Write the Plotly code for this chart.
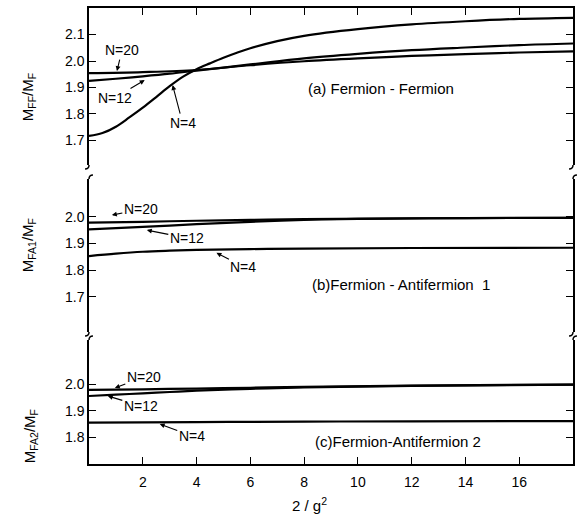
import plotly.graph_objects as go

# ---------------- data ----------------
# panel (a) Fermion-Fermion
xa_n4 = [0, 0.5, 1, 1.5, 2, 2.5, 3, 3.5, 4, 4.5, 5, 5.5, 6, 7, 8, 10, 12, 14, 16, 18]
ya_n4 = [1.717, 1.728, 1.752, 1.787, 1.824, 1.864, 1.905, 1.941, 1.969, 1.991, 2.012, 2.031, 2.048, 2.075, 2.095, 2.120, 2.138, 2.150, 2.159, 2.163]
xa_n12 = [0, 1, 2, 3, 4, 6, 8, 10, 12, 14, 16, 18]
ya_n12 = [1.925, 1.933, 1.942, 1.952, 1.964, 1.987, 2.010, 2.027, 2.041, 2.051, 2.060, 2.066]
xa_n20 = [0, 2, 4, 6, 8, 10, 12, 14, 16, 18]
ya_n20 = [1.954, 1.958, 1.966, 1.984, 1.999, 2.010, 2.019, 2.026, 2.032, 2.036]

# panel (b) Fermion-Antifermion 1
xb_n4 = [0, 1, 2, 3, 4, 6, 8, 12, 18]
yb_n4 = [1.853, 1.862, 1.869, 1.873, 1.876, 1.879, 1.881, 1.883, 1.884]
xb_n12 = [0, 2, 4, 6, 8, 10, 14, 18]
yb_n12 = [1.953, 1.962, 1.972, 1.981, 1.988, 1.992, 1.995, 1.996]
xb_n20 = [0, 2, 4, 6, 8, 12, 18]
yb_n20 = [1.978, 1.981, 1.985, 1.988, 1.991, 1.994, 1.996]

# panel (c) Fermion-Antifermion 2
xc_n4 = [0, 4, 8, 12, 18]
yc_n4 = [1.855, 1.857, 1.859, 1.860, 1.861]
xc_n12 = [0, 1, 2, 3, 4, 6, 8, 12, 18]
yc_n12 = [1.955, 1.960, 1.965, 1.970, 1.975, 1.982, 1.987, 1.993, 1.998]
xc_n20 = [0, 2, 4, 6, 8, 12, 18]
yc_n20 = [1.978, 1.980, 1.983, 1.986, 1.989, 1.994, 1.998]

x_ticks = [2, 4, 6, 8, 10, 12, 14, 16]
ya_ticks = [1.7, 1.8, 1.9, 2.0, 2.1]
yb_ticks = [1.7, 1.8, 1.9, 2.0]
yc_ticks = [1.8, 1.9, 2.0]

# ---------------- layout geometry ----------------
W, H = 577, 517
ML, MR, MT, MB = 89, 2, 8, 53
PW, PH = W - ML - MR, H - MT - MB


def py2paper(py):
    return (H - MB - py) / PH


def px2paper(px):
    return (px - ML) / PW


dom_a = [py2paper(165), 1.0]
dom_b = [py2paper(332), py2paper(179)]
dom_c = [0.0, py2paper(340)]

FONT = "Liberation Sans, Arial, sans-serif"
LW = 2.2

fig = go.Figure()
series = [
    (xa_n4, ya_n4, "x", "y"), (xa_n12, ya_n12, "x", "y"), (xa_n20, ya_n20, "x", "y"),
    (xb_n4, yb_n4, "x2", "y2"), (xb_n12, yb_n12, "x2", "y2"), (xb_n20, yb_n20, "x2", "y2"),
    (xc_n4, yc_n4, "x3", "y3"), (xc_n12, yc_n12, "x3", "y3"), (xc_n20, yc_n20, "x3", "y3"),
]
for xs, ys, xr, yr in series:
    fig.add_trace(go.Scatter(x=xs, y=ys, xaxis=xr, yaxis=yr, mode="lines",
                             line=dict(color="black", width=LW, shape="spline", smoothing=1.0),
                             showlegend=False, hoverinfo="skip"))

xcommon = dict(range=[0, 18], tickvals=x_ticks, ticks="inside", ticklen=7,
               tickcolor="black", tickwidth=1.2, linecolor="black", linewidth=1.5,
               showgrid=False, zeroline=False)
ycommon = dict(ticks="inside", ticklen=7, tickcolor="black", tickwidth=1.2,
               showline=True, linecolor="black", linewidth=1.5, mirror="ticks",
               showgrid=False, zeroline=False, tickformat=".1f",
               tickfont=dict(family=FONT, size=14, color="black"))

fig.update_layout(
    width=W, height=H,
    margin=dict(l=ML, r=MR, t=MT, b=MB, pad=0),
    paper_bgcolor="white", plot_bgcolor="white",
    font=dict(family=FONT, size=14, color="black"),
    xaxis=dict(**xcommon, anchor="y", side="top", showline=True, showticklabels=False),
    xaxis2=dict(**{k: v for k, v in xcommon.items() if k not in ("ticks",)}, ticks="",
                anchor="y2", matches="x", showline=False, showticklabels=False),
    xaxis3=dict(**xcommon, anchor="y3", matches="x", showline=True, showticklabels=True,
                ticklabelstandoff=4,
                tickfont=dict(family=FONT, size=14, color="black")),
    yaxis=dict(**ycommon, domain=dom_a, range=[1.6075, 2.2], tickvals=ya_ticks, anchor="x"),
    yaxis2=dict(**ycommon, domain=dom_b, range=[1.569, 2.141], tickvals=yb_ticks, anchor="x2"),
    yaxis3=dict(**ycommon, domain=dom_c, range=[1.7, 2.165], tickvals=yc_ticks, anchor="x3"),
)

# ---------------- break marks on left/right axes ----------------
def hook(px, py, dx, dy):
    x0, y0 = px2paper(px), py2paper(py)
    x1, y1 = px2paper(px + dx), py2paper(py + dy)
    xc, yc = px2paper(px), py2paper(py + dy)
    return f"M {x0},{y0} Q {xc},{yc} {x1},{y1}"

shapes = []
for side_px in (ML, ML + PW):
    shapes.append(hook(side_px, 165, -4, 4))
    shapes.append(hook(side_px, 179, 4, -4))
    shapes.append(hook(side_px, 332, -4, 4))
    shapes.append(hook(side_px, 340, 4, -4))
for p in shapes:
    fig.add_shape(type="path", path=p, xref="paper", yref="paper",
                  line=dict(color="black", width=1.5))

# ---------------- annotations ----------------
ann = []
def lab(text, x, y, ax, ay, xr, yr):
    ann.append(dict(text=text, x=x, y=y, xref=xr, yref=yr, ax=ax, ay=ay,
                    showarrow=True, arrowhead=2, arrowsize=0.9, arrowwidth=1.1,
                    arrowcolor="black", font=dict(family=FONT, size=14, color="black")))

lab("N=20", 1.04, 1.962, 5, -21, "x", "y")
lab("N=12", 2.07, 1.928, -30, 18, "x", "y")
lab("N=4", 3.11, 1.909, 10, 38, "x", "y")

lab("N=20", 0.85, 2.006, 29, -6, "x2", "y2")
lab("N=12", 2.15, 1.950, 40, 8, "x2", "y2")
lab("N=4", 4.74, 1.865, 27, 14, "x2", "y2")

lab("N=20", 0.96, 1.985, 29, -11, "x3", "y3")
lab("N=12", 0.70, 1.955, 33, 10, "x3", "y3")
lab("N=4", 2.63, 1.850, 32, 12, "x3", "y3")

for text, x, y, xr, yr in [
    ("(a) Fermion - Fermion", 10.85, 1.898, "x", "y"),
    ("(b)Fermion - Antifermion  1", 11.6, 1.745, "x2", "y2"),
    ("(c)Fermion-Antifermion 2", 11.5, 1.786, "x3", "y3"),
]:
    ann.append(dict(text=text, x=x, y=y, xref=xr, yref=yr, showarrow=False,
                    font=dict(family=FONT, size=15, color="black")))

for text, cx, cy in [
    ("M<sub>FF</sub>/M<sub>F</sub>", 28, 97),
    ("M<sub>FA1</sub>/M<sub>F</sub>", 28, 245),
    ("M<sub>FA2</sub>/M<sub>F</sub>", 30, 436),
]:
    ann.append(dict(text=text, x=px2paper(cx), y=py2paper(cy), xref="paper", yref="paper",
                    showarrow=False, textangle=-90, xanchor="center", yanchor="middle",
                    font=dict(family=FONT, size=15, color="black")))

ann.append(dict(text="2 / g<sup>2</sup>", x=px2paper(310), y=py2paper(505), xref="paper",
                yref="paper", showarrow=False, xanchor="center", yanchor="middle",
                font=dict(family=FONT, size=15, color="black")))

fig.update_layout(annotations=ann)
fig.write_html("out.html")
